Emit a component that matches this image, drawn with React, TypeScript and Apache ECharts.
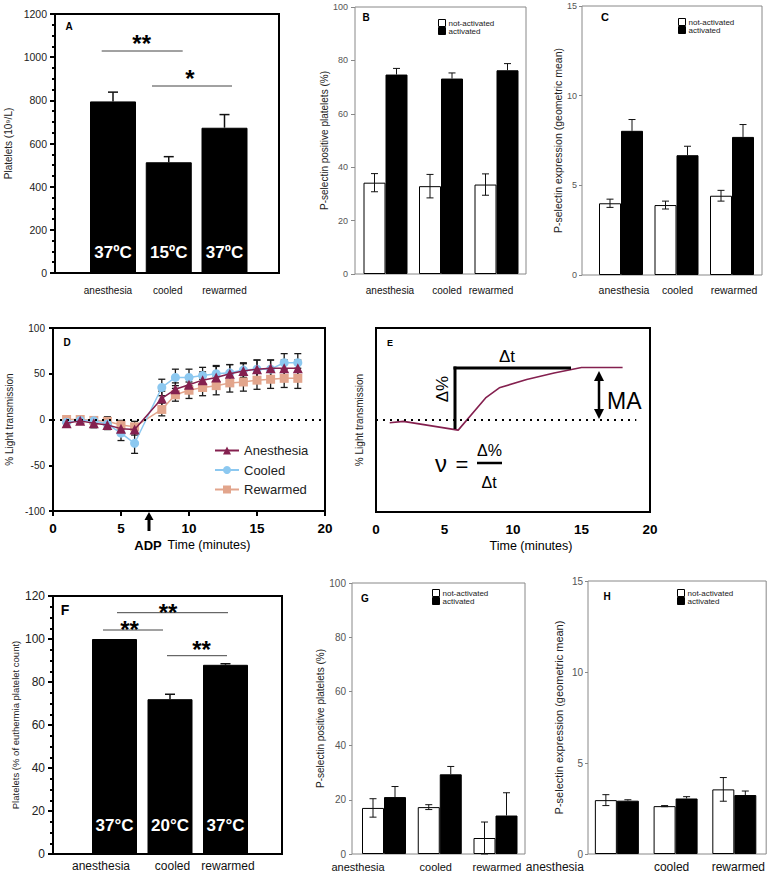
import React, { useEffect, useRef } from 'react';
import * as echarts from 'echarts';

const FONT = '"Liberation Sans", Arial, Helvetica, sans-serif';

// ---------- data ----------
const categories = ['anesthesia', 'cooled', 'rewarmed'];

const plateletsA = [795, 513, 673];
const plateletsAErr = [43, 26, 61];
const tempsA = ['37ºC', '15ºC', '37ºC'];

const pselB_not = [34.2, 32.9, 33.5];
const pselB_notErr = [3.4, 4.4, 4.0];
const pselB_act = [74.7, 73.2, 76.3];
const pselB_actErr = [2.3, 2.1, 2.5];

const exprC_not = [4.0, 3.9, 4.42];
const exprC_notErr = [0.23, 0.22, 0.3];
const exprC_act = [8.04, 6.68, 7.7];
const exprC_actErr = [0.63, 0.5, 0.69];

const timesD = [1, 2, 3, 4, 5, 6, 8, 9, 10, 11, 12, 13, 14, 15, 16, 17, 18];
const anesthesiaD = [-4, -1.5, -4, -6, -10, -11, 23, 33, 38, 43, 46, 50, 53, 55, 56, 56, 56];
const anesthesiaDErr = [3, 3, 5, 5, 5, 6, 8, 7, 8, 9, 12, 10, 8, 10, 9, 9, 9];
const cooledD = [-3, -1, -1.5, -5, -15, -26, 35, 46, 46, 48, 50, 51, 54, 55, 55, 62, 62];
const cooledDErr = [3, 2, 3, 4, 8, 11, 9, 9, 9, 9, 9, 9, 8, 10, 10, 10, 10];
const rewarmedD = [0, 0, -1, -2, -6, -8, 11, 27, 32, 35, 37, 40, 41, 43, 44, 45, 45];
const rewarmedDErr = [3, 2, 4, 5, 5, 6, 7, 7, 9, 9, 10, 10, 10, 10, 10, 10, 11];
const xTicksD = [0, 5, 10, 15, 20];
const yTicksD = [-100, -50, 0, 50, 100];

const timesE = [1, 2, 6, 8, 9, 11, 13, 15, 18];
const curveE = [-3, -1.5, -11, 24, 35, 44, 51, 57, 57];

const plateletsF = [100, 72, 88];
const plateletsFErr = [0, 2.3, 0.5];
const tempsF = ['37°C', '20°C', '37°C'];

const pselG_not = [17, 17.3, 5.9];
const pselG_notErr = [3.4, 0.9, 5.9];
const pselG_act = [21, 29.4, 14.2];
const pselG_actErr = [3.9, 2.9, 8.4];

const exprH_not = [2.96, 2.63, 3.55];
const exprH_notErr = [0.3, 0.03, 0.65];
const exprH_act = [2.93, 3.05, 3.24];
const exprH_actErr = [0.05, 0.1, 0.22];

// ---------- helpers ----------
function errorRender(offset: number, cap: number, both: boolean, width: number, color: string) {
  return (_params: any, api: any) => {
    const x = api.value(0);
    const y = api.value(1);
    const e = api.value(2);
    if (!e) return null;
    const top = api.coord([x, y + e]);
    const bot = api.coord([x, both ? y - e : y]);
    const cx = top[0] + offset;
    const style = { stroke: color, lineWidth: width };
    const children: any[] = [
      { type: 'line', shape: { x1: cx, y1: top[1], x2: cx, y2: bot[1] }, style },
      { type: 'line', shape: { x1: cx - cap / 2, y1: top[1], x2: cx + cap / 2, y2: top[1] }, style },
    ];
    if (both) {
      children.push({ type: 'line', shape: { x1: cx - cap / 2, y1: bot[1], x2: cx + cap / 2, y2: bot[1] }, style });
    }
    return { type: 'group', children };
  };
}

function addBarPanel(opt: any, p: any) {
  const gi = opt.grid.length;
  const xMin = 1 - p.first / p.spacing;
  const xMax = xMin + p.width / p.spacing;
  opt.grid.push({
    left: p.left, top: p.top, width: p.width, height: p.height,
    show: true, borderColor: p.axisColor, borderWidth: p.axisWidth, backgroundColor: 'transparent',
  });
  const rich: any = {};
  p.labelShift.forEach((s: number, i: number) => {
    rich['c' + i] = {
      fontSize: p.labelFont, fontFamily: FONT, color: '#111',
      padding: s < 0 ? [0, -2 * s, 0, 0] : [0, 0, 0, 2 * s],
    };
  });
  opt.xAxis.push({
    gridIndex: gi, type: 'value', min: xMin, max: xMax,
    axisLine: { show: false, onZero: false }, axisTick: { show: false }, splitLine: { show: false },
    axisLabel: {
      customValues: [1, 2, 3], margin: p.labelMargin, fontSize: p.labelFont, fontFamily: FONT, color: '#111',
      formatter: (v: number) => {
        const i = Math.round(v) - 1;
        return '{c' + i + '|' + categories[i] + '}';
      },
      rich,
    },
  });
  opt.yAxis.push({
    gridIndex: gi, type: 'value', min: 0, max: p.yMax, interval: p.yInterval,
    splitLine: { show: false },
    axisLine: { show: false, onZero: false },
    axisTick: { show: true, length: p.tickLen, lineStyle: { color: p.axisColor, width: p.axisWidth } },
    minorTick: p.minorSplit
      ? { show: true, splitNumber: p.minorSplit, length: 3, lineStyle: { color: p.axisColor, width: p.axisWidth } }
      : { show: false },
    axisLabel: {
      fontSize: p.yFont, color: p.yLabelColor, margin: p.yLabelMargin, fontFamily: FONT,
      formatter: (v: number) => String(v),
    },
    name: p.yName, nameLocation: 'middle', nameGap: p.yNameGap,
    nameTextStyle: { fontSize: p.yNameFont, color: '#222', fontFamily: FONT },
  });
  const n = p.groups.length;
  p.groups.forEach((g: any, k: number) => {
    opt.series.push({
      type: 'bar', name: g.name, xAxisIndex: gi, yAxisIndex: gi,
      data: g.values.map((v: number, i: number) => [i + 1, v]),
      barWidth: p.barWidth, barGap: '0%', z: 2,
      itemStyle: { color: g.color, borderColor: '#000', borderWidth: 1 },
      label: p.temps
        ? {
            show: true, position: 'insideBottom', distance: p.tempDistance,
            formatter: (q: any) => p.temps[q.dataIndex],
            color: '#fff', fontWeight: 'bold', fontSize: p.tempFont, fontFamily: FONT,
          }
        : { show: false },
    });
    const offset = n === 1 ? 0 : (k === 0 ? -p.barWidth / 2 : p.barWidth / 2);
    opt.series.push({
      type: 'custom', name: g.name + ' err', xAxisIndex: gi, yAxisIndex: gi, z: 3,
      data: g.values.map((v: number, i: number) => [i + 1, v, g.errs[i]]),
      encode: { x: 0, y: 1 },
      renderItem: errorRender(offset, p.cap, g.both, p.errWidth, '#111'),
    });
  });
  if (p.legend) {
    opt.legend.push({
      left: p.legend.left, top: p.legend.top, orient: 'vertical', padding: 0,
      itemWidth: 7, itemHeight: 7, itemGap: 0, selectedMode: false,
      textStyle: { fontSize: 8, fontFamily: FONT, color: '#222', padding: [0, 0, 0, -2] },
      data: [
        { name: 'not-activated', icon: 'rect', itemStyle: { color: '#fff', borderColor: '#000', borderWidth: 1 } },
        { name: 'activated', icon: 'rect', itemStyle: { color: '#000', borderColor: '#000', borderWidth: 1 } },
      ],
    });
  }
}

function gText(x: number, y: number, text: string, fontSize: number, extra: any = {}) {
  return {
    type: 'text', x, y, rotation: extra.rotation || 0, z: 10,
    style: {
      text, fontSize, fontFamily: extra.fontFamily || FONT, fontWeight: extra.fontWeight || 'normal',
      fill: extra.fill || '#000', align: extra.align || 'center', verticalAlign: 'middle',
    },
  };
}
function gLine(x1: number, y1: number, x2: number, y2: number, w: number, color = '#000') {
  return { type: 'line', z: 10, shape: { x1, y1, x2, y2 }, style: { stroke: color, lineWidth: w } };
}
function gTri(points: number[][]) {
  return { type: 'polygon', z: 10, shape: { points }, style: { fill: '#000' } };
}

const notColor = '#ffffff';
const actColor = '#000000';
const maroon = '#84204F';
const lightBlue = '#8CC8F0';
const salmon = '#E2A58C';

function buildOption() {
  const opt: any = {
    animation: false, backgroundColor: '#fff', textStyle: { fontFamily: FONT },
    grid: [], xAxis: [], yAxis: [], series: [], legend: [],
  };

  // A
  addBarPanel(opt, {
    left: 55, top: 14, width: 224, height: 259, first: 58, spacing: 55.75,
    yMax: 1200, yInterval: 200, minorSplit: 4, labelShift: [-5, -1, 0], labelFont: 10, labelMargin: 12,
    yFont: 10.5, yLabelColor: '#222', yLabelMargin: 8, yName: 'Platelets (10⁹/L)', yNameGap: 42, yNameFont: 10,
    axisColor: '#000', axisWidth: 2, tickLen: 5, barWidth: 46, cap: 10, errWidth: 1.5,
    groups: [{ name: 'Platelets A', values: plateletsA, errs: plateletsAErr, color: '#000', both: false }],
    temps: tempsA, tempFont: 17, tempDistance: 12,
  });
  // B
  addBarPanel(opt, {
    left: 355, top: 7, width: 171, height: 267, first: 30.5, spacing: 55.5,
    yMax: 100, yInterval: 20, labelShift: [4.5, 6, -5.5], labelFont: 10, labelMargin: 11,
    yFont: 9, yLabelColor: '#555', yLabelMargin: 7, yName: 'P-selectin positive platelets (%)', yNameGap: 22, yNameFont: 10,
    axisColor: '#888', axisWidth: 1, tickLen: 4, barWidth: 22, cap: 7, errWidth: 1,
    groups: [
      { name: 'not-activated', values: pselB_not, errs: pselB_notErr, color: notColor, both: true },
      { name: 'activated', values: pselB_act, errs: pselB_actErr, color: actColor, both: false },
    ],
    legend: { left: 438, top: 19 },
  });
  // C
  addBarPanel(opt, {
    left: 582, top: 6, width: 180, height: 269, first: 39, spacing: 55.5,
    yMax: 15, yInterval: 5, labelShift: [3, 1, 2], labelFont: 10.5, labelMargin: 9,
    yFont: 9, yLabelColor: '#555', yLabelMargin: 5, yName: 'P-selectin expression (geometric mean)', yNameGap: 14, yNameFont: 10.5,
    axisColor: '#888', axisWidth: 1, tickLen: 3, barWidth: 22, cap: 7, errWidth: 1,
    groups: [
      { name: 'not-activated', values: exprC_not, errs: exprC_notErr, color: notColor, both: true },
      { name: 'activated', values: exprC_act, errs: exprC_actErr, color: actColor, both: false },
    ],
    legend: { left: 678, top: 18 },
  });
  // F
  addBarPanel(opt, {
    left: 53, top: 596, width: 229, height: 258, first: 61.5, spacing: 55.5,
    yMax: 120, yInterval: 20, minorSplit: 4, labelShift: [-13.5, 2.5, 2.5], labelFont: 12, labelMargin: 6,
    yFont: 12, yLabelColor: '#222', yLabelMargin: 8, yName: 'Platelets (% of euthermia platelet count)', yNameGap: 33, yNameFont: 9.5,
    axisColor: '#000', axisWidth: 2, tickLen: 5, barWidth: 45, cap: 10, errWidth: 1.5,
    groups: [{ name: 'Platelets F', values: plateletsF, errs: plateletsFErr, color: '#000', both: false }],
    temps: tempsF, tempFont: 17, tempDistance: 20,
  });
  // G
  addBarPanel(opt, {
    left: 352, top: 583, width: 173, height: 271, first: 32, spacing: 55.75,
    yMax: 100, yInterval: 20, labelShift: [-26, -4, 1.5], labelFont: 11, labelMargin: 7,
    yFont: 10, yLabelColor: '#555', yLabelMargin: 6, yName: 'P-selectin positive platelets (%)', yNameGap: 24, yNameFont: 10,
    axisColor: '#888', axisWidth: 1, tickLen: 3, barWidth: 22, cap: 7, errWidth: 1,
    groups: [
      { name: 'not-activated', values: pselG_not, errs: pselG_notErr, color: notColor, both: true },
      { name: 'activated', values: pselG_act, errs: pselG_actErr, color: actColor, both: false },
    ],
    legend: { left: 432, top: 589 },
  });
  // H
  addBarPanel(opt, {
    left: 588, top: 581, width: 179, height: 273, first: 29, spacing: 59,
    yMax: 15, yInterval: 5, labelShift: [-62, -4, 4], labelFont: 12, labelMargin: 7,
    yFont: 10, yLabelColor: '#555', yLabelMargin: 5, yName: 'P-selectin expression (geometric mean)', yNameGap: 24, yNameFont: 11,
    axisColor: '#888', axisWidth: 1, tickLen: 3, barWidth: 22, cap: 7, errWidth: 1,
    groups: [
      { name: 'not-activated', values: exprH_not, errs: exprH_notErr, color: notColor, both: true },
      { name: 'activated', values: exprH_act, errs: exprH_actErr, color: actColor, both: false },
    ],
    legend: { left: 677, top: 589 },
  });

  // D
  const gD = opt.grid.length;
  opt.grid.push({ left: 53, top: 328, width: 272, height: 183, show: true, borderColor: '#000', borderWidth: 2, backgroundColor: 'transparent' });
  opt.xAxis.push({
    gridIndex: gD, type: 'value', min: xTicksD[0], max: xTicksD[xTicksD.length - 1], interval: 5,
    axisLine: { show: false, onZero: false }, splitLine: { show: false },
    axisTick: { show: true, length: 5, lineStyle: { color: '#000', width: 2 } },
    axisLabel: { fontSize: 13.5, fontWeight: 'bold', color: '#000', margin: 10, fontFamily: FONT },
  });
  opt.yAxis.push({
    gridIndex: gD, type: 'value', min: yTicksD[0], max: yTicksD[yTicksD.length - 1], interval: 50,
    axisLine: { show: false, onZero: false }, splitLine: { show: false },
    axisTick: { show: true, length: 4, lineStyle: { color: '#000', width: 2 } },
    axisLabel: { fontSize: 10, color: '#222', margin: 8, fontFamily: FONT },
    name: '% Light transmission', nameLocation: 'middle', nameGap: 39,
    nameTextStyle: { fontSize: 10, color: '#222', fontFamily: FONT },
  });
  const dGroups = [
    { name: 'Rewarmed', vals: rewarmedD, errs: rewarmedDErr, color: salmon, symbol: 'rect' },
    { name: 'Cooled', vals: cooledD, errs: cooledDErr, color: lightBlue, symbol: 'circle' },
    { name: 'Anesthesia', vals: anesthesiaD, errs: anesthesiaDErr, color: maroon, symbol: 'triangle' },
  ];
  dGroups.forEach((g, k) => {
    opt.series.push({
      type: 'custom', name: g.name + ' err', xAxisIndex: gD, yAxisIndex: gD, z: 2,
      data: timesD.map((t, i) => [t, g.vals[i], g.errs[i]]),
      encode: { x: 0, y: 1 },
      renderItem: errorRender(0, 7, true, 1.3, '#1a1a1a'),
    });
    opt.series.push({
      type: 'line', name: g.name, xAxisIndex: gD, yAxisIndex: gD, z: 3 + k,
      data: timesD.map((t, i) => [t, g.vals[i]]),
      symbol: g.symbol, symbolSize: g.symbol === 'triangle' ? 10 : 9, showSymbol: true,
      lineStyle: { color: g.color, width: 1.5 }, itemStyle: { color: g.color },
      markLine: k === 0 ? {
        silent: true, symbol: ['none', 'none'], label: { show: false },
        lineStyle: { color: '#000', width: 2, type: [2, 5] },
        data: [{ yAxis: 0 }],
      } : undefined,
    });
  });
  opt.legend.push({
    left: 214, top: 444, orient: 'vertical', padding: 0, itemWidth: 24, itemHeight: 10, itemGap: 6.5,
    selectedMode: false,
    textStyle: { fontSize: 13, color: '#222', fontFamily: FONT },
    data: ['Anesthesia', 'Cooled', 'Rewarmed'],
  });

  // E
  const gE = opt.grid.length;
  opt.grid.push({ left: 376, top: 328, width: 274, height: 184, show: true, borderColor: '#000', borderWidth: 2, backgroundColor: 'transparent' });
  opt.xAxis.push({
    gridIndex: gE, type: 'value', min: 0, max: 20, interval: 5,
    axisLine: { show: false, onZero: false }, splitLine: { show: false }, axisTick: { show: false },
    axisLabel: { fontSize: 13.5, fontWeight: 'bold', color: '#000', margin: 10, fontFamily: FONT },
  });
  opt.yAxis.push({
    gridIndex: gE, type: 'value', min: -100, max: 100,
    axisLine: { show: false, onZero: false }, splitLine: { show: false }, axisTick: { show: false },
    axisLabel: { show: false },
    name: '% Light transmission', nameLocation: 'middle', nameGap: 12,
    nameTextStyle: { fontSize: 10, color: '#222', fontFamily: FONT },
  });
  opt.series.push({
    type: 'line', name: 'Example curve', xAxisIndex: gE, yAxisIndex: gE, z: 3,
    data: timesE.map((t, i) => [t, curveE[i]]), showSymbol: false, symbol: 'none',
    lineStyle: { color: maroon, width: 1.6 },
    markLine: {
      silent: true, symbol: ['none', 'none'], label: { show: false },
      lineStyle: { color: '#000', width: 2, type: [2, 5] },
      data: [[{ coord: [0, 0] }, { coord: [19, 0] }]],
    },
  });

  const els: any[] = [];
  // panel letters
  els.push(gText(69, 26, 'A', 10, { fontWeight: 'bold' }));
  els.push(gText(366, 17, 'B', 10, { fontWeight: 'bold' }));
  els.push(gText(605, 17, 'C', 11, { fontWeight: 'bold' }));
  els.push(gText(67, 342, 'D', 10, { fontWeight: 'bold' }));
  els.push(gText(390, 343, 'E', 9, { fontWeight: 'bold' }));
  els.push(gText(65, 610, 'F', 14, { fontWeight: 'bold' }));
  els.push(gText(365, 598, 'G', 10, { fontWeight: 'bold' }));
  els.push(gText(607, 596, 'H', 10, { fontWeight: 'bold' }));

  // A significance
  els.push(gLine(101.7, 51, 182.7, 51, 1, '#444'));
  els.push(gText(141.7, 43, '**', 24, { fontWeight: 'bold' }));
  els.push(gLine(152, 86, 232, 86, 1, '#444'));
  els.push(gText(190, 78, '*', 24, { fontWeight: 'bold' }));
  // F significance
  els.push(gLine(117, 612.7, 228, 612.7, 1, '#444'));
  els.push(gText(168, 612.5, '**', 24, { fontWeight: 'bold' }));
  els.push(gLine(103, 630, 163, 630, 1, '#444'));
  els.push(gText(129.5, 629, '**', 24, { fontWeight: 'bold' }));
  els.push(gLine(167, 655.7, 227, 655.7, 1, '#444'));
  els.push(gText(201.5, 649, '**', 24, { fontWeight: 'bold' }));

  // D annotations
  els.push(gLine(149, 531, 149, 518, 3));
  els.push(gTri([[149, 512], [144.5, 520], [153.5, 520]]));
  els.push(gText(148, 545, 'ADP', 13, { fontWeight: 'bold' }));
  els.push(gText(209, 545, 'Time (minutes)', 12.5));

  // E annotations
  els.push(gText(531, 546, 'Time (minutes)', 12.5));
  els.push(gLine(455, 429, 455, 366.5, 3));
  els.push(gLine(453.5, 368, 571, 368, 3));
  els.push(gText(507, 356, 'Δt', 17));
  els.push(gText(442, 389, 'Δ%', 17, { rotation: Math.PI / 2 }));
  els.push(gLine(599, 378, 599, 412, 2.5));
  els.push(gTri([[599, 371], [594, 381], [604, 381]]));
  els.push(gTri([[599, 419], [594, 409], [604, 409]]));
  els.push(gText(607, 401, 'MA', 23, { align: 'left' }));
  els.push(gText(441, 463, 'ν', 24));
  els.push(gText(462, 464, '=', 22));
  els.push(gText(489.5, 450, 'Δ%', 16));
  els.push(gLine(477, 463, 502, 463, 2.5));
  els.push(gText(489, 482, 'Δt', 16));

  opt.graphic = { elements: els };
  return opt;
}

export default function App() {
  const ref = useRef<HTMLDivElement>(null);
  useEffect(() => {
    if (!ref.current) return;
    const chart = echarts.init(ref.current, undefined, { renderer: 'svg' });
    chart.setOption(buildOption());
    return () => chart.dispose();
  }, []);
  return (
    <div
      ref={ref}
      style={{ position: 'absolute', left: 0, top: 0, width: 768, height: 874, background: '#fff' }}
    />
  );
}
